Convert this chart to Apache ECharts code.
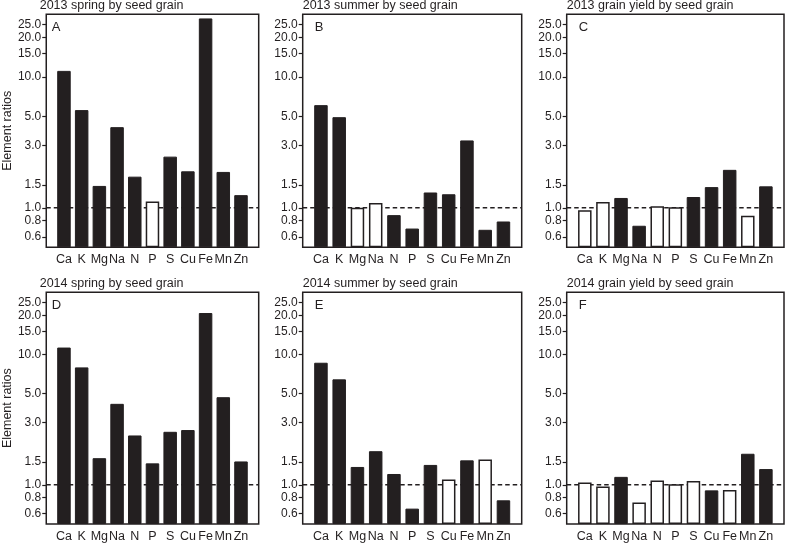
<!DOCTYPE html>
<html>
<head>
<meta charset="utf-8">
<script src="https://cdn.jsdelivr.net/npm/echarts@6/dist/echarts.min.js"></script>
<style>
  html, body { margin: 0; padding: 0; background: #fff; }
  #chart { width: 787px; height: 543px; }
</style>
</head>
<body>
<div id="chart"></div>
<script>
// element categories and y tick labels
const elements = ['Ca', 'K', 'Mg', 'Na', 'N', 'P', 'S', 'Cu', 'Fe', 'Mn', 'Zn'];
const yTicks = [0.6, 0.8, 1.0, 1.5, 3.0, 5.0, 10.0, 15.0, 20.0, 25.0];

const panelTitles = [
    '2013 spring by seed grain', '2013 summer by seed grain', '2013 grain yield by seed grain',
    '2014 spring by seed grain', '2014 summer by seed grain', '2014 grain yield by seed grain'
];
const panelLetters = ['A', 'B', 'C', 'D', 'E', 'F'];

// element ratios (1 = filled bar, 0 = open bar)
const spring2013 = [11.1, 5.57, 1.47, 4.13, 1.73, 1.12, 2.46, 1.90, 27.9, 1.88, 1.25];
const spring2013Fill = [1, 1, 1, 1, 1, 0, 1, 1, 1, 1, 1];
const summer2013 = [6.08, 4.92, 1.0, 1.09, 0.88, 0.695, 1.31, 1.27, 3.27, 0.68, 0.787];
const summer2013Fill = [1, 1, 0, 0, 1, 1, 1, 1, 1, 1, 1];
const yield2013 = [0.96, 1.11, 1.19, 0.73, 1.03, 1.01, 1.21, 1.44, 1.95, 0.87, 1.46];
const yield2013Fill = [0, 0, 1, 1, 0, 0, 1, 1, 1, 0, 1];
const spring2014 = [11.3, 7.96, 1.60, 4.18, 2.39, 1.46, 2.55, 2.63, 20.8, 4.70, 1.51];
const spring2014Fill = [1, 1, 1, 1, 1, 1, 1, 1, 1, 1, 1];
const summer2014 = [8.64, 6.44, 1.37, 1.81, 1.21, 0.656, 1.42, 1.10, 1.54, 1.56, 0.76];
const summer2014Fill = [1, 1, 1, 1, 1, 1, 1, 0, 1, 0, 1];
const yield2014 = [1.04, 0.97, 1.15, 0.73, 1.08, 1.01, 1.07, 0.906, 0.91, 1.73, 1.32];
const yield2014Fill = [0, 0, 1, 0, 0, 0, 0, 1, 0, 1, 1];

const panelValues = [spring2013, summer2013, yield2013, spring2014, summer2014, yield2014];
const panelFills = [spring2013Fill, summer2013Fill, yield2013Fill, spring2014Fill, summer2014Fill, yield2014Fill];

const ink = '#231f20';
const font = 'Liberation Sans, Arial, sans-serif';
const fs = 12.5;
const colLeft = [39.7, 302.7, 566.7];
const rowTop = [14.3, 292.3];
const plotW = 219, plotH = 233;

// one empty slot on each side so bars sit a full step inside the frame
const xCats = [''].concat(elements, ['']);

const chart = echarts.init(document.getElementById('chart'), null, { renderer: 'canvas' });

const grids = [], xAxes = [], yAxes = [], series = [], titles = [];

panelValues.forEach((vals, i) => {
    const col = i % 3, row = Math.floor(i / 3);
    const left = colLeft[col], top = rowTop[row];
    grids.push({
        left: left, top: top, width: plotW, height: plotH,
        show: true, borderColor: ink, borderWidth: 1.5, backgroundColor: 'transparent'
    });
    xAxes.push({
        type: 'category', gridIndex: i, data: xCats, boundaryGap: false,
        axisLine: { show: false }, axisTick: { show: false }, splitLine: { show: false },
        axisLabel: { interval: 0, hideOverlap: false, color: ink, fontFamily: font, fontSize: fs, margin: 6 }
    });
    yAxes.push({
        type: 'log', logBase: 10, gridIndex: i, min: 0.5, max: 30, startValue: 0.5,
        name: col === 0 ? 'Element ratios' : '',
        nameLocation: 'middle', nameGap: 27, nameRotate: 90,
        nameTextStyle: { color: ink, fontFamily: font, fontSize: fs },
        axisLine: { show: false }, splitLine: { show: false },
        axisTick: { show: true, inside: false, length: 4, customValues: yTicks, lineStyle: { color: ink, width: 1.2 } },
        axisLabel: {
            customValues: yTicks, hideOverlap: false, showMinLabel: true, showMaxLabel: true,
            color: ink, fontFamily: font, fontSize: 12, margin: 5, lineHeight: 12,
            formatter: v => Number(v).toFixed(1)
        }
    });
    // dashed reference line at ratio 1, drawn behind the bars
    series.push({
        type: 'line', xAxisIndex: i, yAxisIndex: i, z: 1, silent: true,
        data: xCats.map(() => 1), symbol: 'none', animation: false,
        lineStyle: { color: ink, width: 1.5, type: [4.5, 3] }
    });
    const fills = panelFills[i];
    series.push({
        type: 'bar', xAxisIndex: i, yAxisIndex: i, z: 2, barWidth: 13.5, animation: false,
        data: [null].concat(vals.map((v, k) => ({
            value: v,
            itemStyle: fills[k]
                ? { color: ink, borderColor: ink, borderWidth: 1 }
                : { color: '#fff', borderColor: ink, borderWidth: 1.5 }
        })), [null])
    });
    titles.push({
        text: panelTitles[i], left: left, top: top - 15, padding: 0,
        textStyle: { color: ink, fontFamily: font, fontSize: fs, fontWeight: 'normal' }
    });
    titles.push({
        text: panelLetters[i], left: left + 12, top: top + 7, padding: 0,
        textStyle: { color: ink, fontFamily: font, fontSize: 13, fontWeight: 'normal' }
    });
});

chart.setOption({
    animation: false,
    title: titles,
    grid: grids,
    xAxis: xAxes,
    yAxis: yAxes,
    series: series
});
</script>
</body>
</html>
